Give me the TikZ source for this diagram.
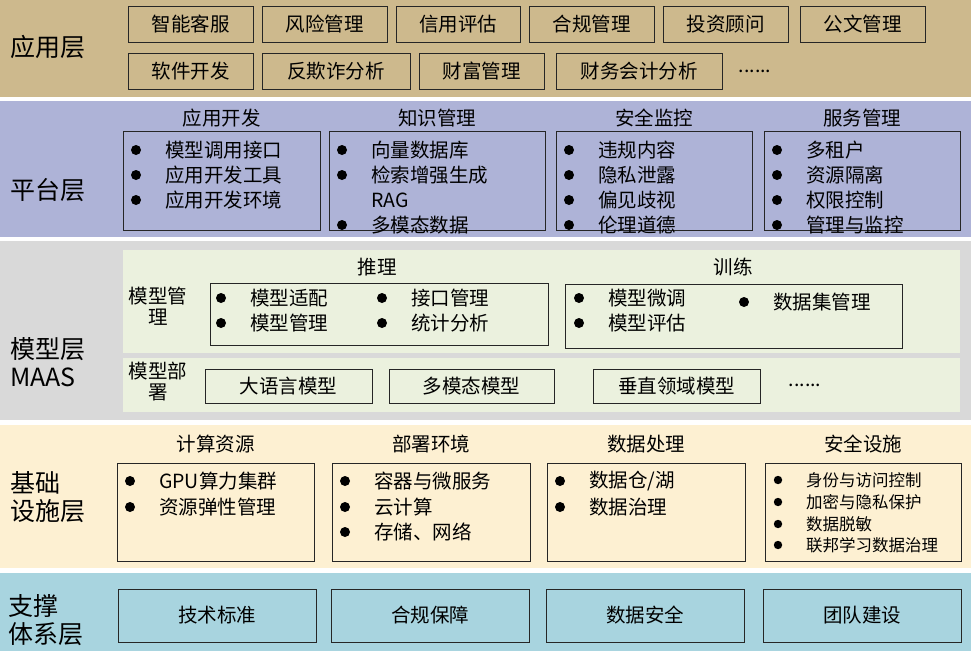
\documentclass[tikz,border=0pt]{standalone}
\usepackage{fontspec}
\setmainfont{Noto Sans CJK SC}
\definecolor{appc}{HTML}{CDB98D}
\definecolor{platc}{HTML}{AEB3D7}
\definecolor{modc}{HTML}{D9D9D9}
\definecolor{greenc}{HTML}{EBF1DE}
\definecolor{infc}{HTML}{FDF0D2}
\definecolor{supc}{HTML}{A8D4DF}
\begin{document}
\begin{tikzpicture}[x=1pt,y=-1pt,
  box/.style={draw=black!85,line width=0.8pt},
  lbl/.style={font=\fontsize{25}{28}\selectfont,inner sep=0,anchor=west,align=left},
  txt/.style={font=\fontsize{19.5}{21}\selectfont,inner sep=0},
  small/.style={font=\fontsize{16.5}{18}\selectfont,inner sep=0}]
\useasboundingbox (0,0) rectangle (971,651);
\fill[white] (0,0) rectangle (971,651);
% layers
\fill[appc] (0,0) rectangle (971,97);
\fill[platc] (0,101) rectangle (971,237);
\fill[modc] (0,241) rectangle (971,420);
\fill[infc] (0,425) rectangle (971,568);
\fill[supc] (0,573) rectangle (971,651);
\node[lbl] (lapp) at (10,47) {应用层};
\node[lbl] (lplat) at (10,190) {平台层};
\node[lbl] (lmod) at (10,362) {模型层\\MAAS};
\node[lbl] (linf) at (10,497) {基础\\设施层};
\node[lbl] (lsup) at (8,620) {支撑\\体系层};
% app boxes
\foreach \a/\b/\y/\t [count=\i] in {128/253/6/智能客服,262/387/6/风险管理,396/520/6/信用评估,529/654/6/合规管理,663/788/6/投资顾问,800/925/6/公文管理,128/253/53/软件开发,262/410/53/反欺诈分析,419/544/53/财富管理,556/722/53/财务会计分析}{
  \draw[box,fill=appc] (\a,\y) rectangle (\b,\y+36);
  \node[txt] (app\i) at ({(\a+\b)/2},\y+18) {\t};
}
\node[txt] (appd) at (755,71) {......};
% platform
\foreach \a/\b/\t [count=\i] in {123/320/应用开发,329/545/知识管理,556/752/安全监控,764/960/服务管理}{
  \draw[box,fill=platc] (\a,131) rectangle (\b,230);
  \node[txt] (ph\i) at ({(\a+\b)/2},118) {\t};
}
\newcommand{\itm}[4][txt]{\fill (#2+13,#3) circle (5);\node[#1,anchor=west] at (#2+42,#3) {#4};}
\itm{123}{150}{模型调用接口}\itm{123}{175}{应用开发工具}\itm{123}{200}{应用开发环境}
\itm{329}{150}{向量数据库}\itm{329}{175}{检索增强生成}\node[txt,anchor=west] (rag) at (371,200) {RAG};\itm{329}{225}{多模态数据}
\itm{556}{150}{违规内容}\itm{556}{175}{隐私泄露}\itm{556}{200}{偏见歧视}\itm{556}{225}{伦理道德}
\itm{764}{150}{多租户}\itm{764}{175}{资源隔离}\itm{764}{200}{权限控制}\itm{764}{225}{管理与监控}
% model
\fill[greenc] (123,250) rectangle (960,353);
\fill[greenc] (123,358) rectangle (960,412);
\node[txt] (htl) at (377,267) {推理};
\node[txt] (htr) at (733,267) {训练};
\node[txt,align=center] (mgmt) at (158,306) {模型管\\理};
\node[txt,align=center] (dep) at (158,382) {模型部\\署};
\draw[box] (210,283) rectangle (548,345);
\draw[box] (565,284) rectangle (902,348);
\itm{208}{298}{模型适配}\itm{208}{323}{模型管理}
\itm{369}{298}{接口管理}\itm{369}{323}{统计分析}
\itm{566}{298}{模型微调}\itm{566}{323}{模型评估}
\itm{731}{302}{数据集管理}
\foreach \a/\b/\t [count=\i] in {205/372/大语言模型,389/554/多模态模型,593/760/垂直领域模型}{
  \draw[box] (\a,369) rectangle (\b,403);
  \node[txt] (md\i) at ({(\a+\b)/2},386) {\t};
}
\node[txt] (mdd) at (805,385) {......};
% infra
\foreach \a/\b/\t [count=\i] in {117/314/计算资源,332/530/部署环境,547/745/数据处理,765/961/安全设施}{
  \draw[box,fill=infc] (\a,463) rectangle (\b,561);
  \node[txt] (ih\i) at ({(\a+\b)/2},444) {\t};
}
\itm{117}{481}{GPU算力集群}\itm{117}{507}{资源弹性管理}
\itm{332}{481}{容器与微服务}\itm{332}{507}{云计算}\itm{332}{532}{存储、网络}
\itm{547}{481}{数据仓/湖}\itm{547}{507}{数据治理}
\newcommand{\sitm}[2]{\fill (778,#1) circle (4.2);\node[small,anchor=west] at (806,#1) {#2};}
\sitm{480}{身份与访问控制}\sitm{502}{加密与隐私保护}\sitm{524}{数据脱敏}\sitm{545}{联邦学习数据治理}
% support
\foreach \a/\b/\t [count=\i] in {118/316/技术标准,331/529/合规保障,546/744/数据安全,763/961/团队建设}{
  \draw[box,fill=supc] (\a,589) rectangle (\b,642);
  \node[txt] (s\i) at ({(\a+\b)/2},615) {\t};
}
\end{tikzpicture}
\end{document}
